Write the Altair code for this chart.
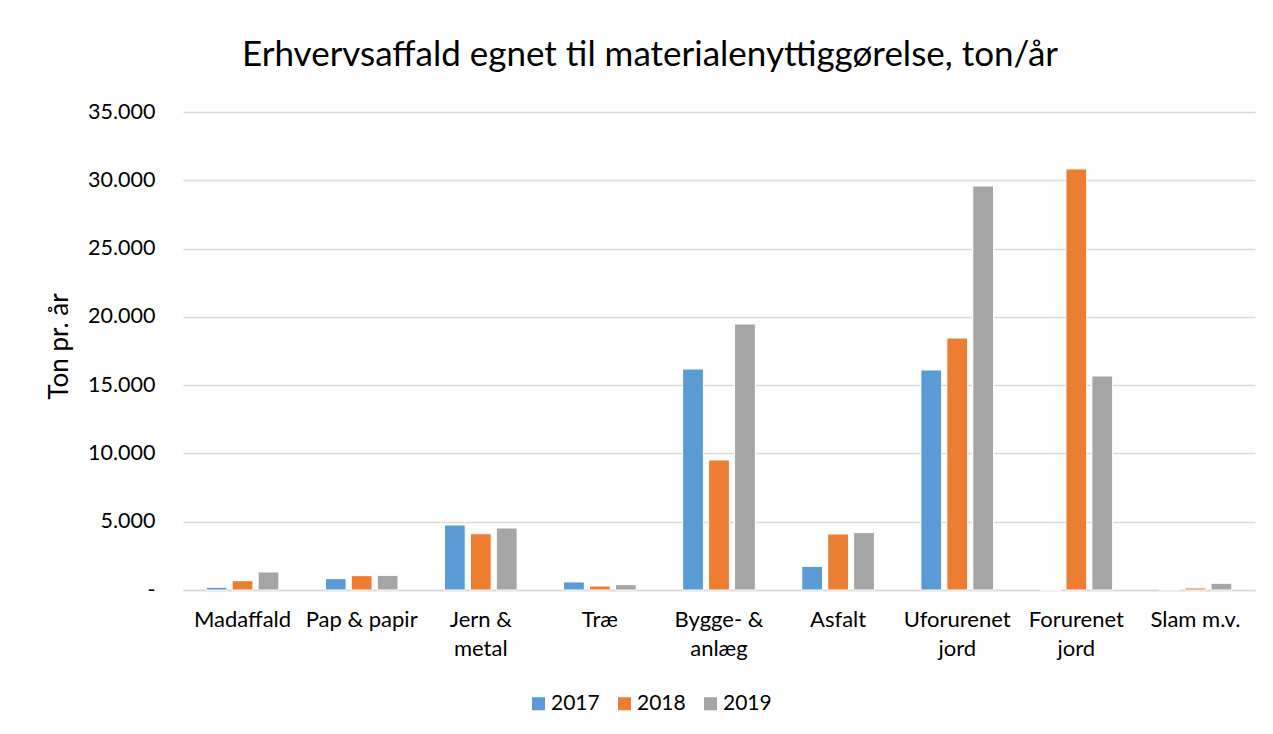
import altair as alt
import pandas as pd

categories = ["Madaffald", "Pap & papir", "Jern & metal", "Træ", "Bygge- & anlæg",
              "Asfalt", "Uforurenet jord", "Forurenet jord", "Slam m.v."]
label_lines = ["Madaffald", "Pap & papir", "Jern &\nmetal", "Træ", "Bygge- &\nanlæg",
               "Asfalt", "Uforurenet\njord", "Forurenet\njord", "Slam m.v."]
years = ["2017", "2018", "2019"]
v2017 = [200, 830, 4760, 590, 16180, 1730, 16110, 0, 30]
v2018 = [680, 1050, 4120, 290, 9520, 4100, 18450, 30830, 150]
v2019 = [1320, 1070, 4540, 390, 19480, 4200, 29580, 15670, 490]
colors = ["#5B9BD5", "#ED7D31", "#A5A5A5"]

rows = []
for i, c in enumerate(label_lines):
    for y, vals in zip(years, [v2017, v2018, v2019]):
        rows.append({"Kategori": c, "År": y, "Ton": vals[i]})
df = pd.DataFrame(rows)

FONT = "Lato"

chart = alt.Chart(df).mark_bar(stroke="white", strokeWidth=1).encode(
    x=alt.X("Kategori:N", sort=label_lines, title=None,
            scale=alt.Scale(paddingInner=0.39, paddingOuter=0.195),
            axis=alt.Axis(labelExpr="split(datum.label, '\\n')", labelAngle=0,
                          labelFontSize=22, labelLineHeight=29, labelPadding=19,
                          labelFont=FONT, labelColor="#000000", ticks=False,
                          domainColor="#D9D9D9", domainWidth=1.5)),
    xOffset=alt.XOffset("År:N", scale=alt.Scale(paddingInner=0.2, paddingOuter=0)),
    y=alt.Y("Ton:Q", title="Ton pr. år",
            scale=alt.Scale(domain=[0, 35000]),
            axis=alt.Axis(values=[0, 5000, 10000, 15000, 20000, 25000, 30000, 35000],
                          labelExpr="datum.value == 0 ? '-' : replace(format(datum.value, ','), ',', '.')",
                          labelFontSize=21.5, labelFont=FONT, labelColor="#000000",
                          labelPadding=28, ticks=False, domain=False,
                          gridColor="#D9D9D9", gridWidth=1.3,
                          titleFontSize=26, titleFont=FONT, titleFontWeight="normal",
                          titleColor="#000000", titlePadding=15, titleY=234)),
    color=alt.Color("År:N", scale=alt.Scale(domain=years, range=colors),
                    legend=alt.Legend(title=None, orient="none", direction="horizontal",
                                      legendX=345, legendY=581,
                                      symbolType="square", symbolSize=170,
                                      symbolStrokeWidth=0,
                                      labelFontSize=21, labelFont=FONT,
                                      labelColor="#000000", columnPadding=14,
                                      labelOffset=2)),
).properties(
    width=1072, height=478,
    title=alt.TitleParams("Erhvervsaffald egnet til materialenyttiggørelse, ton/år",
                          fontSize=35, font=FONT, fontWeight="normal", color="#000000",
                          anchor="middle", dx=-69, offset=0, baseline="alphabetic"),
    autosize=alt.AutoSizeParams(type="none"),
    padding={"left": 175, "top": 104, "right": 10, "bottom": 130},
).configure_view(stroke=None)

chart.save("out.html", embed_options={"renderer": "svg", "actions": False})
